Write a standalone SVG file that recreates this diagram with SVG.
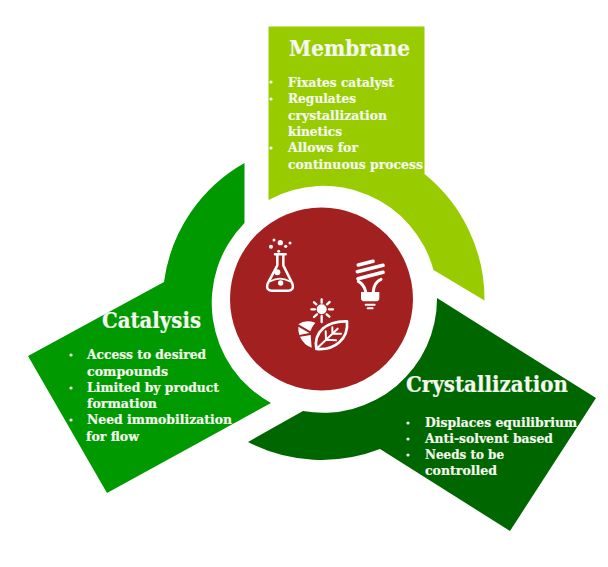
<svg xmlns="http://www.w3.org/2000/svg" width="608" height="567" viewBox="0 0 608 567">
<style>
text{font-family:"DejaVu Serif Condensed","DejaVu Serif","Liberation Serif",serif;font-weight:700;fill:#f4f8ee;stroke:#f4f8ee;stroke-width:.2px}
.h{font-size:22px}.b{font-size:13.500px}
.i{fill:none;stroke:#fff;stroke-linecap:round;stroke-linejoin:round}
.f{fill:#fff}
</style>
<rect width="608" height="567" fill="#fff"/>
<g id="membrane">
<path fill="#99cc00" d="M268.500 26.500H424.500V174A161 161 0 0 1 484.500 300.500L433.500 270A114 114 0 0 0 268.500 200Z"/>
<text class="h" x="289" y="56" textLength="121" lengthAdjust="spacingAndGlyphs">Membrane</text>
<g class="b">
<circle class="f" cx="271" cy="82" r="1.600"/><circle class="f" cx="271" cy="99" r="1.600"/><circle class="f" cx="271" cy="148" r="1.600"/>
<text x="288" y="87" textLength="106" lengthAdjust="spacingAndGlyphs">Fixates catalyst</text>
<text x="288" y="103" textLength="68" lengthAdjust="spacingAndGlyphs">Regulates</text>
<text x="288" y="120" textLength="99" lengthAdjust="spacingAndGlyphs">crystallization</text>
<text x="288" y="136" textLength="54" lengthAdjust="spacingAndGlyphs">kinetics</text>
<text x="288" y="152" textLength="70" lengthAdjust="spacingAndGlyphs">Allows for</text>
<text x="288" y="169" textLength="135" lengthAdjust="spacingAndGlyphs">continuous process</text>
</g>
</g>
<g id="catalysis">
<path fill="#009900" d="M244.500 163V223A114 114 0 0 0 271 403L107 493L28 356L164 282A161 161 0 0 1 244.500 163Z"/>
<text class="h" x="102" y="328" textLength="99" lengthAdjust="spacingAndGlyphs">Catalysis</text>
<g class="b">
<circle class="f" cx="71" cy="355" r="1.600"/><circle class="f" cx="71" cy="388" r="1.600"/><circle class="f" cx="71" cy="420" r="1.600"/>
<text x="87" y="359" textLength="119" lengthAdjust="spacingAndGlyphs">Access to desired</text>
<text x="87" y="376" textLength="81" lengthAdjust="spacingAndGlyphs">compounds</text>
<text x="87" y="392" textLength="132" lengthAdjust="spacingAndGlyphs">Limited by product</text>
<text x="87" y="408" textLength="70" lengthAdjust="spacingAndGlyphs">formation</text>
<text x="87" y="424" textLength="145" lengthAdjust="spacingAndGlyphs">Need immobilization</text>
<text x="86" y="441" textLength="53" lengthAdjust="spacingAndGlyphs">for flow</text>
</g>
</g>
<g id="crystallization">
<path fill="#006600" d="M437 298L596 398L510 531L380 449A161 161 0 0 1 248 442L303 411A114 114 0 0 0 437 298Z"/>
<text class="h" x="406" y="392" textLength="162" lengthAdjust="spacingAndGlyphs">Crystallization</text>
<g class="b">
<circle class="f" cx="408" cy="423" r="1.600"/><circle class="f" cx="408" cy="439" r="1.600"/><circle class="f" cx="408" cy="455" r="1.600"/>
<text x="425" y="427" textLength="152" lengthAdjust="spacingAndGlyphs">Displaces equilibrium</text>
<text x="425" y="443" textLength="128" lengthAdjust="spacingAndGlyphs">Anti-solvent based</text>
<text x="425" y="459" textLength="79" lengthAdjust="spacingAndGlyphs">Needs to be</text>
<text x="425" y="475" textLength="72" lengthAdjust="spacingAndGlyphs">controlled</text>
</g>
</g>
<g id="hub">
<circle cx="321.500" cy="299" r="91.500" fill="#a32020"/>
<g transform="translate(255 232) scale(.33333)">
<g id="flask">
<path class="i" stroke-width="7.500" d="M60 67H92M67 70V100L38 155Q32 176 50 176H100Q118 176 112 155L85 100V70"/>
<path class="i" stroke-width="5" d="M46 148Q75 132 104 148"/>
<g class="f"><circle cx="57" cy="24" r="4.500"/><circle cx="76" cy="32" r="8"/><circle cx="105" cy="33" r="4.500"/><circle cx="92" cy="43" r="5"/><circle cx="48" cy="44" r="6"/><circle cx="71" cy="58" r="4.500"/><circle cx="67" cy="121" r="9"/><circle cx="77" cy="153" r="8"/></g>
</g>
<g id="bulb">
<path class="i" stroke-width="11" d="M310 99L354 88M307 119L384 100M309 140L384 121"/>
<path class="i" stroke-width="9" d="M310 148Q326 156 332 178M378 142Q358 150 355 178"/>
<path class="f" d="M318 180H373V198Q373 208 362 208H329Q318 208 318 198Z"/>
<path class="i" stroke-width="6" d="M332 218H359M338 229H353"/>
</g>
<g id="plant">
<circle class="f" cx="200" cy="232" r="15"/>
<path class="i" stroke-width="7" d="M200 202V212M200 252V270M169 232H180M222 232H234M177 211L184 217M224 210L216 217M177 255L186 247M223 254L215 247"/>
<path class="f" d="M130 277Q150 262 181 272Q172 282 166 298ZM130 284L163 303L133 309Q129 296 130 284ZM135 314L167 309L170 347Q146 338 135 314Z"/>
<path class="i" stroke-width="8" d="M184 351C175 300 215 266 276 268C281 320 240 356 184 351Z"/>
<path class="i" stroke-width="6" d="M187 348L248 290M213 323L212 298M213 323L243 325M232 305L232 286M232 305L258 305"/>
</g>
</g>
</g>
<g id="connectors"/>
</svg>
